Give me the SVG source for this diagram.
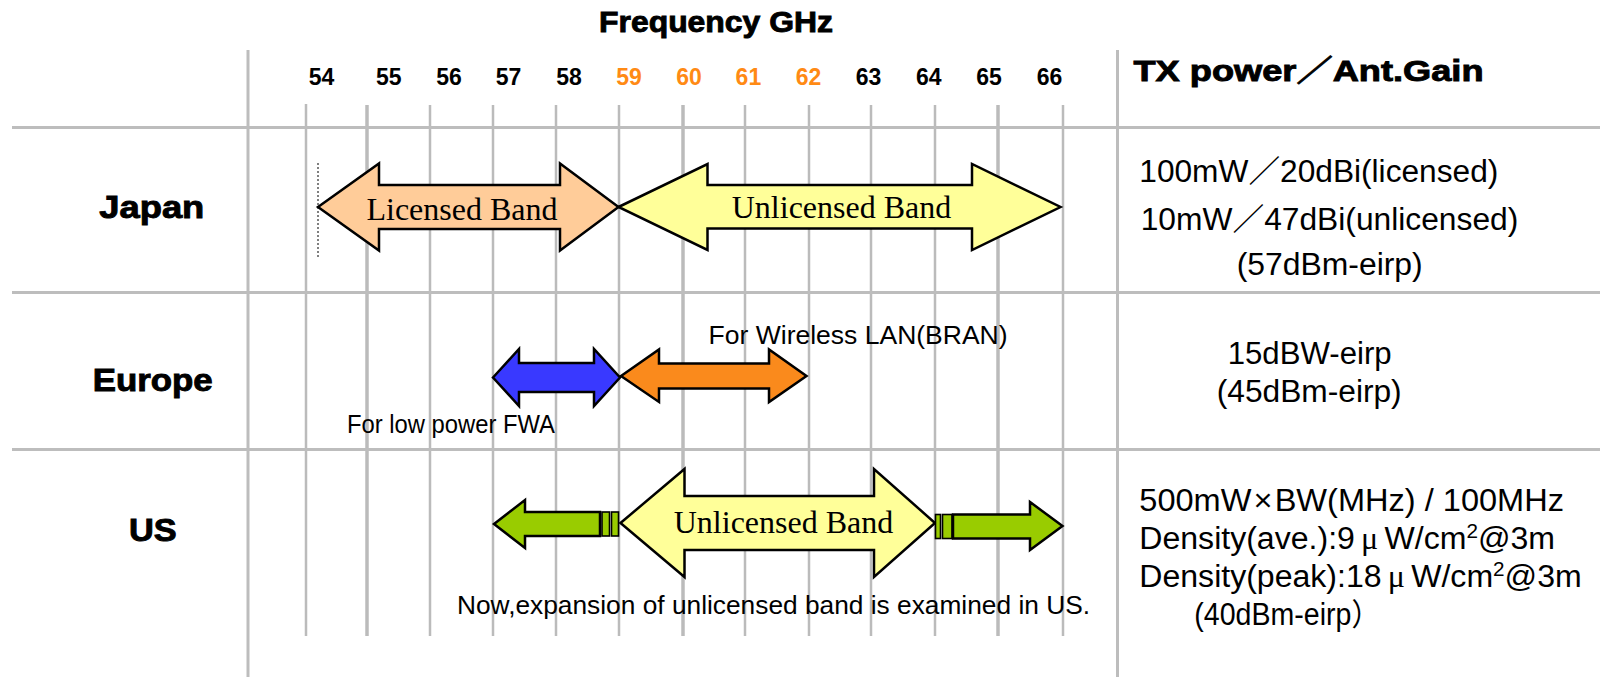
<svg xmlns="http://www.w3.org/2000/svg" width="1608" height="677" viewBox="0 0 1608 677">
<style>
.grid{stroke:#BBBBBB;stroke-width:2.5;fill:none}
.gridb{stroke:#BBBBBB;stroke-width:3.5;fill:none}
.sep{stroke:#BDBDBD;stroke-width:3;fill:none}
.num{font-family:"Liberation Sans",Arial,sans-serif;font-weight:bold;font-size:23px;text-anchor:middle;fill:#000}
.numo{fill:#FF8A14}
.hdr{font-family:"Liberation Sans",Arial,"Noto Sans CJK JP",sans-serif;font-weight:bold;fill:#000;stroke:#000;stroke-width:0.9}
.band{font-family:"Liberation Serif","Times New Roman",serif;font-size:32px;text-anchor:middle;fill:#000}
.lbl{font-family:"Liberation Sans",Arial,sans-serif;font-size:25px;fill:#000}
.rt{font-family:"Liberation Sans",Arial,"Noto Sans CJK JP",sans-serif;font-size:31px;fill:#000}
.arr{stroke:#000;stroke-width:2.5;stroke-linejoin:miter}
.bar{stroke:#000;stroke-width:1.6;fill:#99CC00}
</style>
<rect x="0" y="0" width="1608" height="677" fill="#FFFFFF"/>

<g id="grid">
  <line class="grid" x1="306" y1="104" x2="306" y2="636"/>
  <line class="gridb" x1="367" y1="105" x2="367" y2="636"/>
  <line class="grid" x1="430" y1="105" x2="430" y2="636"/>
  <line class="grid" x1="493" y1="105" x2="493" y2="636"/>
  <line class="grid" x1="556" y1="105" x2="556" y2="636"/>
  <line class="grid" x1="619" y1="105" x2="619" y2="636"/>
  <line class="gridb" x1="683" y1="105" x2="683" y2="636"/>
  <line class="grid" x1="745" y1="105" x2="745" y2="636"/>
  <line class="grid" x1="809" y1="105" x2="809" y2="636"/>
  <line class="grid" x1="871" y1="105" x2="871" y2="636"/>
  <line class="grid" x1="935" y1="105" x2="935" y2="636"/>
  <line class="gridb" x1="998" y1="105" x2="998" y2="636"/>
  <line class="grid" x1="1063" y1="105" x2="1063" y2="636"/>
  <line class="sep" x1="12" y1="127.5" x2="1600" y2="127.5"/>
  <line class="sep" x1="12" y1="292.5" x2="1600" y2="292.5"/>
  <line class="sep" x1="12" y1="449.5" x2="1600" y2="449.5"/>
  <line class="sep" x1="248" y1="50" x2="248" y2="677"/>
  <line class="sep" x1="1117.5" y1="50" x2="1117.5" y2="677"/>
</g>

<g id="header">
  <text class="hdr" x="716" y="32" font-size="30" text-anchor="middle" textLength="234" lengthAdjust="spacingAndGlyphs" stroke-width="0.3">Frequency GHz</text>
  <text class="hdr" x="1133.5" y="80.5" font-size="30" textLength="350" lengthAdjust="spacingAndGlyphs">TX power／Ant.Gain</text>
</g>

<g id="freq-axis">
  <text class="num" x="321.5" y="85">54</text>
  <text class="num" x="388.7" y="85">55</text>
  <text class="num" x="449" y="85">56</text>
  <text class="num" x="508.5" y="85">57</text>
  <text class="num" x="569" y="85">58</text>
  <text class="num numo" x="629" y="85">59</text>
  <text class="num numo" x="689" y="85">60</text>
  <text class="num numo" x="748.4" y="85">61</text>
  <text class="num numo" x="808.5" y="85">62</text>
  <text class="num" x="868.5" y="85">63</text>
  <text class="num" x="928.8" y="85">64</text>
  <text class="num" x="989" y="85">65</text>
  <text class="num" x="1049.5" y="85">66</text>
</g>

<g id="region-labels">
  <text class="hdr" x="99.3" y="218.3" font-size="31" textLength="105" lengthAdjust="spacingAndGlyphs">Japan</text>
  <text class="hdr" x="92.7" y="390.7" font-size="31" textLength="120" lengthAdjust="spacingAndGlyphs">Europe</text>
  <text class="hdr" x="129" y="540.7" font-size="31" textLength="47.7" lengthAdjust="spacingAndGlyphs">US</text>
</g>

<g id="japan-licensed">
  <line x1="318" y1="163" x2="318" y2="257" stroke="#000" stroke-width="1" stroke-dasharray="2,2"/>
  <polygon class="arr" fill="#FFCC99" points="318,207 379,163.5 379,185 560,185 560,163.5 618.5,207 560,250.5 560,229 379,229 379,250.5"/>
  <text class="band" x="462" y="220">Licensed Band</text>
</g>

<g id="japan-unlicensed">
  <polygon class="arr" fill="#FFFF99" points="618.5,207 707.5,164 707.5,185 972,185 972,164 1060.5,207 972,250 972,228.5 707.5,228.5 707.5,250"/>
  <text class="band" x="841.5" y="218">Unlicensed Band</text>
</g>

<g id="europe-fwa">
  <polygon class="arr" fill="#3939FF" points="493,377.5 519,349 519,363 594,363 594,349 620,377.5 594,406 594,392 519,392 519,406"/>
  <text class="lbl" x="347" y="433" textLength="208" lengthAdjust="spacingAndGlyphs">For low power FWA</text>
</g>

<g id="europe-wlan">
  <polygon class="arr" fill="#FA8A1C" points="621,376 659,349.5 659,363.5 769,363.5 769,349.5 806.5,376 769,402 769,388.5 659,388.5 659,402"/>
  <text class="lbl" x="708.6" y="344" textLength="299" lengthAdjust="spacingAndGlyphs">For Wireless LAN(BRAN)</text>
</g>

<g id="us-unlicensed">
  <polygon class="arr" fill="#99CC00" points="494,524 525,500 525,512 600,512 600,536 525,536 525,548"/>
  <rect class="bar" x="602" y="512" width="7.5" height="24"/>
  <rect class="bar" x="611.5" y="512" width="7" height="24"/>
  <polygon class="arr" fill="#FFFF99" points="620.5,523 684.5,469 684.5,496 874,496 874,469 935,523 874,577 874,550 684.5,550 684.5,577"/>
  <rect class="bar" x="935.5" y="514.5" width="5" height="24"/>
  <rect class="bar" x="942.5" y="514.5" width="9.5" height="24"/>
  <polygon class="arr" fill="#99CC00" points="953,514.5 1030,514.5 1030,502 1062.5,526 1030,550 1030,538.5 953,538.5"/>
  <text class="band" x="783.5" y="533">Unlicensed Band</text>
  <text class="lbl" x="457" y="614" textLength="633" lengthAdjust="spacingAndGlyphs">Now,expansion of unlicensed band is examined in US.</text>
</g>

<g id="tx-power">
  <text class="rt" x="1139.3" y="181.7" textLength="359" lengthAdjust="spacingAndGlyphs">100mW／20dBi(licensed)</text>
  <text class="rt" x="1140.7" y="230" textLength="377.6" lengthAdjust="spacingAndGlyphs">10mW／47dBi(unlicensed)</text>
  <text class="rt" x="1236.7" y="275" textLength="186" lengthAdjust="spacingAndGlyphs">(57dBm-eirp)</text>
  <text class="rt" x="1227.7" y="364.3" textLength="164" lengthAdjust="spacingAndGlyphs">15dBW-eirp</text>
  <text class="rt" x="1216.7" y="401.7" textLength="185" lengthAdjust="spacingAndGlyphs">(45dBm-eirp)</text>
  <text class="rt" x="1139.3" y="510.7" textLength="424.7" lengthAdjust="spacingAndGlyphs">500mW<tspan font-family="'Liberation Sans',sans-serif" font-weight="300" dx="2">×</tspan><tspan dx="2">BW(MHz) / 100MHz</tspan></text>
  <text class="rt" x="1139.3" y="549.3" textLength="415.7" lengthAdjust="spacingAndGlyphs">Density(ave.):9<tspan font-family="'Liberation Serif',serif" dx="6">μ</tspan><tspan dx="6">W/cm</tspan><tspan font-size="20" dy="-11">2</tspan><tspan dy="11">@3m</tspan></text>
  <text class="rt" x="1139.3" y="587.3" textLength="442.4" lengthAdjust="spacingAndGlyphs">Density(peak):18<tspan font-family="'Liberation Serif',serif" dx="6">μ</tspan><tspan dx="6">W/cm</tspan><tspan font-size="20" dy="-11">2</tspan><tspan dy="11">@3m</tspan></text>
  <text class="rt" x="1194.3" y="625" textLength="185.7" lengthAdjust="spacingAndGlyphs">(40dBm-eirp）</text>
</g>

<g id="connectors"></g>
</svg>
